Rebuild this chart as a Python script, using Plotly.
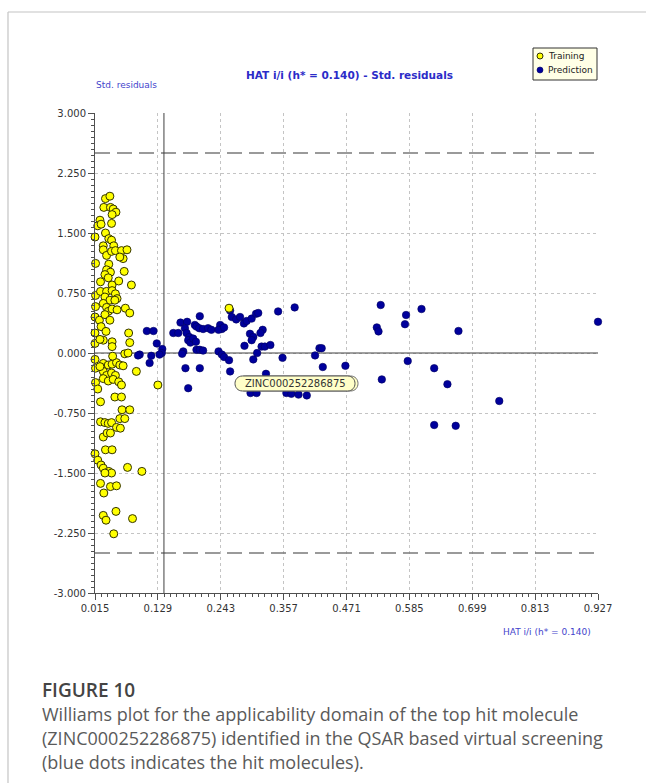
import plotly.graph_objects as go

W, H = 646, 783

# Training set: leverage (HAT i/i) and standardized residuals
train_hat = [0.034, 0.042, 0.031, 0.043, 0.048, 0.053, 0.046, 0.045, 0.024, 0.020,
             0.026, 0.015, 0.034, 0.040, 0.045, 0.030, 0.049, 0.030, 0.036, 0.045,
             0.052, 0.063, 0.073, 0.066, 0.060, 0.016, 0.040, 0.036, 0.043, 0.033,
             0.039, 0.068, 0.025, 0.046, 0.058, 0.081, 0.016, 0.025, 0.036, 0.046,
             0.052, 0.055, 0.033, 0.042, 0.051, 0.016, 0.030, 0.036, 0.039, 0.046,
             0.055, 0.070, 0.078, 0.015, 0.023, 0.033, 0.042, 0.015, 0.026, 0.035,
             0.076, 0.030, 0.046, 0.078, 0.046, 0.015, 0.016, 0.030, 0.030, 0.039,
             0.046, 0.054, 0.060, 0.066, 0.069, 0.030, 0.036, 0.045, 0.052, 0.030,
             0.039, 0.048, 0.058, 0.063, 0.016, 0.020, 0.090, 0.129, 0.025, 0.051,
             0.063, 0.064, 0.078, 0.060, 0.069, 0.025, 0.033, 0.039, 0.045, 0.054,
             0.061, 0.030, 0.037, 0.043, 0.034, 0.046, 0.015, 0.020, 0.026, 0.030,
             0.040, 0.045, 0.033, 0.074, 0.100, 0.025, 0.031, 0.043, 0.054, 0.030,
             0.035, 0.053, 0.083, 0.049, 0.258, 0.015, 0.024, 0.047, 0.075, 0.024]
train_res = [1.93, 1.96, 1.82, 1.82, 1.80, 1.76, 1.73, 1.62, 1.66, 1.59,
             1.61, 1.45, 1.50, 1.43, 1.41, 1.34, 1.34, 1.29, 1.22, 1.27,
             1.28, 1.28, 1.29, 1.18, 1.20, 1.12, 1.11, 1.04, 1.01, 0.98,
             0.94, 1.02, 0.89, 0.85, 0.90, 0.85, 0.72, 0.77, 0.77, 0.78,
             0.74, 0.68, 0.70, 0.66, 0.66, 0.58, 0.62, 0.57, 0.52, 0.55,
             0.54, 0.56, 0.50, 0.45, 0.41, 0.48, 0.41, 0.25, 0.33, 0.27,
             0.25, 0.16, 0.14, 0.13, 0.08, -0.08, -0.19, -0.13, -0.19, -0.15,
             -0.14, -0.12, -0.15, -0.16, -0.01, -0.23, -0.28, -0.25, -0.28, -0.32,
             -0.35, -0.33, -0.36, -0.40, -0.37, -0.45, -0.23, -0.40, -0.61, -0.55,
             -0.55, -0.71, -0.71, -0.82, -0.82, -0.86, -0.87, -0.88, -0.87, -0.93,
             -0.94, -1.05, -1.00, -1.00, -1.21, -1.21, -1.26, -1.34, -1.40, -1.44,
             -1.48, -1.50, -1.50, -1.43, -1.48, -1.63, -1.75, -1.67, -1.66, -2.03,
             -2.09, -1.98, -2.07, -2.26, 0.56, 0.12, 0.17, -0.04, 0.00, -0.17]

# Prediction set (screened molecules)
pred_hat = [0.109, 0.121, 0.127, 0.137, 0.136, 0.096, 0.093, 0.114, 0.117, 0.132,
            0.157, 0.166, 0.170, 0.182, 0.178, 0.181, 0.186, 0.184, 0.188,
            0.196, 0.199, 0.205, 0.204, 0.211, 0.220, 0.226, 0.193, 0.198,
            0.242, 0.245, 0.239, 0.249, 0.260,
            0.263, 0.271, 0.278, 0.285, 0.290, 0.299, 0.307, 0.311,
            0.296, 0.302, 0.299, 0.319, 0.315, 0.347, 0.377,
            0.175, 0.173, 0.199, 0.205, 0.211, 0.239, 0.245, 0.249, 0.258, 0.260,
            0.286, 0.302, 0.309, 0.317, 0.323, 0.333,
            0.179, 0.205, 0.184, 0.325,
            0.355, 0.414, 0.422, 0.426, 0.428, 0.469,
            0.297, 0.308, 0.362, 0.371, 0.384, 0.399,
            0.533, 0.526, 0.529, 0.535,
            0.579, 0.577, 0.607, 0.674, 0.927, 0.582, 0.630, 0.654, 0.748, 0.630, 0.669]
pred_res = [0.275, 0.275, 0.12, 0.05, 0.00, -0.02, -0.03, -0.125, -0.035, -0.02,
            0.25, 0.25, 0.38, 0.39, 0.31, 0.25, 0.20, 0.16, 0.13,
            0.35, 0.33, 0.46, 0.31, 0.30, 0.31, 0.29, 0.18, 0.14,
            0.35, 0.30, 0.29, 0.32, 0.53,
            0.45, 0.42, 0.45, 0.37, 0.40, 0.43, 0.49, 0.50,
            0.24, 0.20, 0.16, 0.29, 0.25, 0.52, 0.57,
            0.02, -0.01, 0.04, 0.04, 0.03, 0.02, -0.02, -0.05, -0.09, -0.23,
            0.09, -0.08, 0.00, 0.08, 0.08, 0.10,
            -0.19, -0.19, -0.44, -0.26,
            -0.06, -0.03, 0.06, 0.06, -0.175, -0.16,
            -0.50, -0.50, -0.50, -0.51, -0.52, -0.53,
            0.60, 0.32, 0.27, -0.33,
            0.475, 0.36, 0.55, 0.275, 0.39, -0.10, -0.19, -0.39, -0.60, -0.90, -0.91]

x_ticks = [0.015, 0.129, 0.243, 0.357, 0.471, 0.585, 0.699, 0.813, 0.927]
y_ticks = [-3.0, -2.25, -1.5, -0.75, 0.0, 0.75, 1.5, 2.25, 3.0]
H_STAR = 0.140       # warning leverage
RES_LIMIT = 2.5      # standardized residual cut-off
hit_name = "ZINC000252286875"

TRAIN_FILL = "#ffff00"
PRED_FILL = "#00009c"
BLUE_TXT = "#2c2cc8"
AX_COL = "#505050"
TICK_FONT = dict(family="DejaVu Sans", size=10, color="#333333")

# plot area in pixels
PL, PR, PT, PB = 95, 598, 113, 593


def px(x):
    return x / W


def py(y):
    return 1 - y / H


fig = go.Figure()
fig.add_trace(go.Scatter(
    x=pred_hat, y=pred_res, mode="markers", name="Prediction", cliponaxis=False,
    marker=dict(size=7.5, color=PRED_FILL, line=dict(width=0.6, color="#000060")),
    showlegend=False))
fig.add_trace(go.Scatter(
    x=train_hat, y=train_res, mode="markers", name="Training", cliponaxis=False,
    marker=dict(size=8, color=TRAIN_FILL, line=dict(width=1, color="#333300")),
    showlegend=False))

shapes = []
# reference lines
for lim in (RES_LIMIT, -RES_LIMIT):
    shapes.append(dict(type="line", xref="x", yref="y", x0=x_ticks[0], x1=x_ticks[-1],
                       y0=lim, y1=lim, layer="between",
                       line=dict(color="#7a7a7a", width=1.5, dash="15px,7px")))
shapes.append(dict(type="line", xref="x", yref="y", x0=x_ticks[0], x1=x_ticks[-1],
                   y0=0, y1=0, layer="between", line=dict(color="#404040", width=1)))
shapes.append(dict(type="line", xref="x", yref="y", x0=H_STAR, x1=H_STAR,
                   y0=y_ticks[0], y1=y_ticks[-1], layer="between",
                   line=dict(color="#404040", width=1)))

# outer frame of the figure panel
shapes.append(dict(type="line", xref="paper", yref="paper", x0=px(8), x1=px(W + 5),
                   y0=py(12), y1=py(12), line=dict(color="#c4c4c4", width=1.2)))
shapes.append(dict(type="line", xref="paper", yref="paper", x0=px(8), x1=px(8),
                   y0=py(12), y1=py(H + 5), line=dict(color="#c4c4c4", width=1.2)))


def pill(x0, y0, x1, y1):
    r = (y1 - y0) / 2
    k = 4 * r / 3
    pts = [("M", [(x0 + r, y0)]), ("L", [(x1 - r, y0)]),
           ("C", [(x1 - r + k, y0), (x1 - r + k, y1), (x1 - r, y1)]),
           ("L", [(x0 + r, y1)]),
           ("C", [(x0 + r - k, y1), (x0 + r - k, y0), (x0 + r, y0)])]
    out = []
    for cmd, coords in pts:
        out.append(cmd + " " + " ".join(f"{px(a):.5f},{py(b):.5f}" for a, b in coords))
    return " ".join(out) + " Z"


# tooltip-style label of the hit molecule
lx0, ly0, lx1, ly1 = 235, 376, 355, 391
shapes.append(dict(type="path", xref="paper", yref="paper", path=pill(lx0 + 3, ly0, lx1 + 3, ly1),
                   fillcolor="#ffffc8", line=dict(color="#707070", width=1), layer="above"))
shapes.append(dict(type="path", xref="paper", yref="paper", path=pill(lx0, ly0, lx1, ly1),
                   fillcolor="#ffffc8", line=dict(color="#505050", width=1), layer="above"))

# legend box
shapes.append(dict(type="rect", xref="paper", yref="paper", x0=px(533), x1=px(597),
                   y0=py(48), y1=py(80), fillcolor="#ffffe6",
                   line=dict(color="#333333", width=1), layer="above"))
shapes.append(dict(type="circle", xref="paper", yref="paper", x0=px(537), x1=px(543),
                   y0=py(53), y1=py(59), fillcolor=TRAIN_FILL,
                   line=dict(color="#333300", width=1), layer="above"))
shapes.append(dict(type="circle", xref="paper", yref="paper", x0=px(537), x1=px(543),
                   y0=py(67), y1=py(73), fillcolor=PRED_FILL,
                   line=dict(color="#000060", width=0.6), layer="above"))

ann = []
ann.append(dict(text=hit_name, x=px((lx0 + lx1) / 2), y=py((ly0 + ly1) / 2 + 0.5),
                xref="paper", yref="paper", showarrow=False, xanchor="center", yanchor="middle",
                font=dict(family="DejaVu Sans", size=10, color="#333333")))
ann.append(dict(text="Training", x=px(546), y=py(56), xref="paper", yref="paper",
                showarrow=False, xanchor="left", yanchor="middle",
                font=dict(family="DejaVu Sans", size=9, color="#222222")))
ann.append(dict(text="Prediction", x=px(546), y=py(70), xref="paper", yref="paper",
                showarrow=False, xanchor="left", yanchor="middle",
                font=dict(family="DejaVu Sans", size=9, color="#222222")))
ann.append(dict(text="<b>HAT i/i (h* = 0.140) - Std. residuals</b>", x=px(349), y=py(75),
                xref="paper", yref="paper", showarrow=False, xanchor="center", yanchor="middle",
                font=dict(family="DejaVu Sans", size=10.5, color=BLUE_TXT)))
ann.append(dict(text="Std. residuals", x=px(94), y=py(85), xref="paper", yref="paper",
                showarrow=False, xanchor="left", yanchor="middle",
                font=dict(family="DejaVu Sans", size=9, color="#4444cc")))
ann.append(dict(text="HAT i/i (h* = 0.140)", x=px(593), y=py(632), xref="paper", yref="paper",
                showarrow=False, xanchor="right", yanchor="middle",
                font=dict(family="DejaVu Sans", size=9, color="#4444cc")))

# figure caption
ann.append(dict(text="FIGURE 10", x=px(40), y=py(690), xref="paper", yref="paper",
                showarrow=False, xanchor="left", yanchor="middle",
                font=dict(family="Open Sans", size=19, color="#444444", weight=600)))
caption = ["Williams plot for the applicability domain of the top hit molecule",
           "(ZINC000252286875) identified in the QSAR based virtual screening",
           "(blue dots indicates the hit molecules)."]
for i, line in enumerate(caption):
    ann.append(dict(text=line, x=px(40), y=py(714 + 24 * i), xref="paper", yref="paper",
                    showarrow=False, xanchor="left", yanchor="middle",
                    font=dict(family="Open Sans", size=18, color="#5a5a5a")))

fig.update_layout(
    width=W, height=H, autosize=False,
    margin=dict(l=0, r=0, t=0, b=0, pad=0),
    paper_bgcolor="white", plot_bgcolor="white",
    template="none", showlegend=False,
    shapes=shapes, annotations=ann,
    xaxis=dict(domain=[px(PL), px(PR)], range=[x_ticks[0], x_ticks[-1]],
               tickmode="array", tickvals=x_ticks, ticktext=[f"{v:.3f}" for v in x_ticks],
               showline=True, linecolor=AX_COL, linewidth=1, mirror=False,
               ticks="outside", ticklen=6, tickwidth=1, tickcolor=AX_COL,
               tickfont=TICK_FONT, showgrid=True, gridcolor="#c4c4c4", griddash="dot",
               gridwidth=1, zeroline=False, automargin=False,
               minor=dict(tickmode="linear", tick0=x_ticks[0], dtick=0.0114, ticks="outside",
                          ticklen=3, tickwidth=1, tickcolor=AX_COL, showgrid=False)),
    yaxis=dict(domain=[py(PB), py(PT)], range=[y_ticks[0], y_ticks[-1]],
               tickmode="array", tickvals=y_ticks, ticktext=[f"{v:.3f}" for v in y_ticks],
               showline=True, linecolor=AX_COL, linewidth=1, mirror=False,
               ticks="outside", ticklen=6, tickwidth=1, tickcolor=AX_COL,
               tickfont=TICK_FONT, showgrid=True, gridcolor="#c4c4c4", griddash="dot",
               gridwidth=1, zeroline=False, automargin=False,
               minor=dict(tickmode="linear", tick0=y_ticks[0], dtick=0.075, ticks="outside",
                          ticklen=3, tickwidth=1, tickcolor=AX_COL, showgrid=False)),
)

fig.write_html("out.html")
